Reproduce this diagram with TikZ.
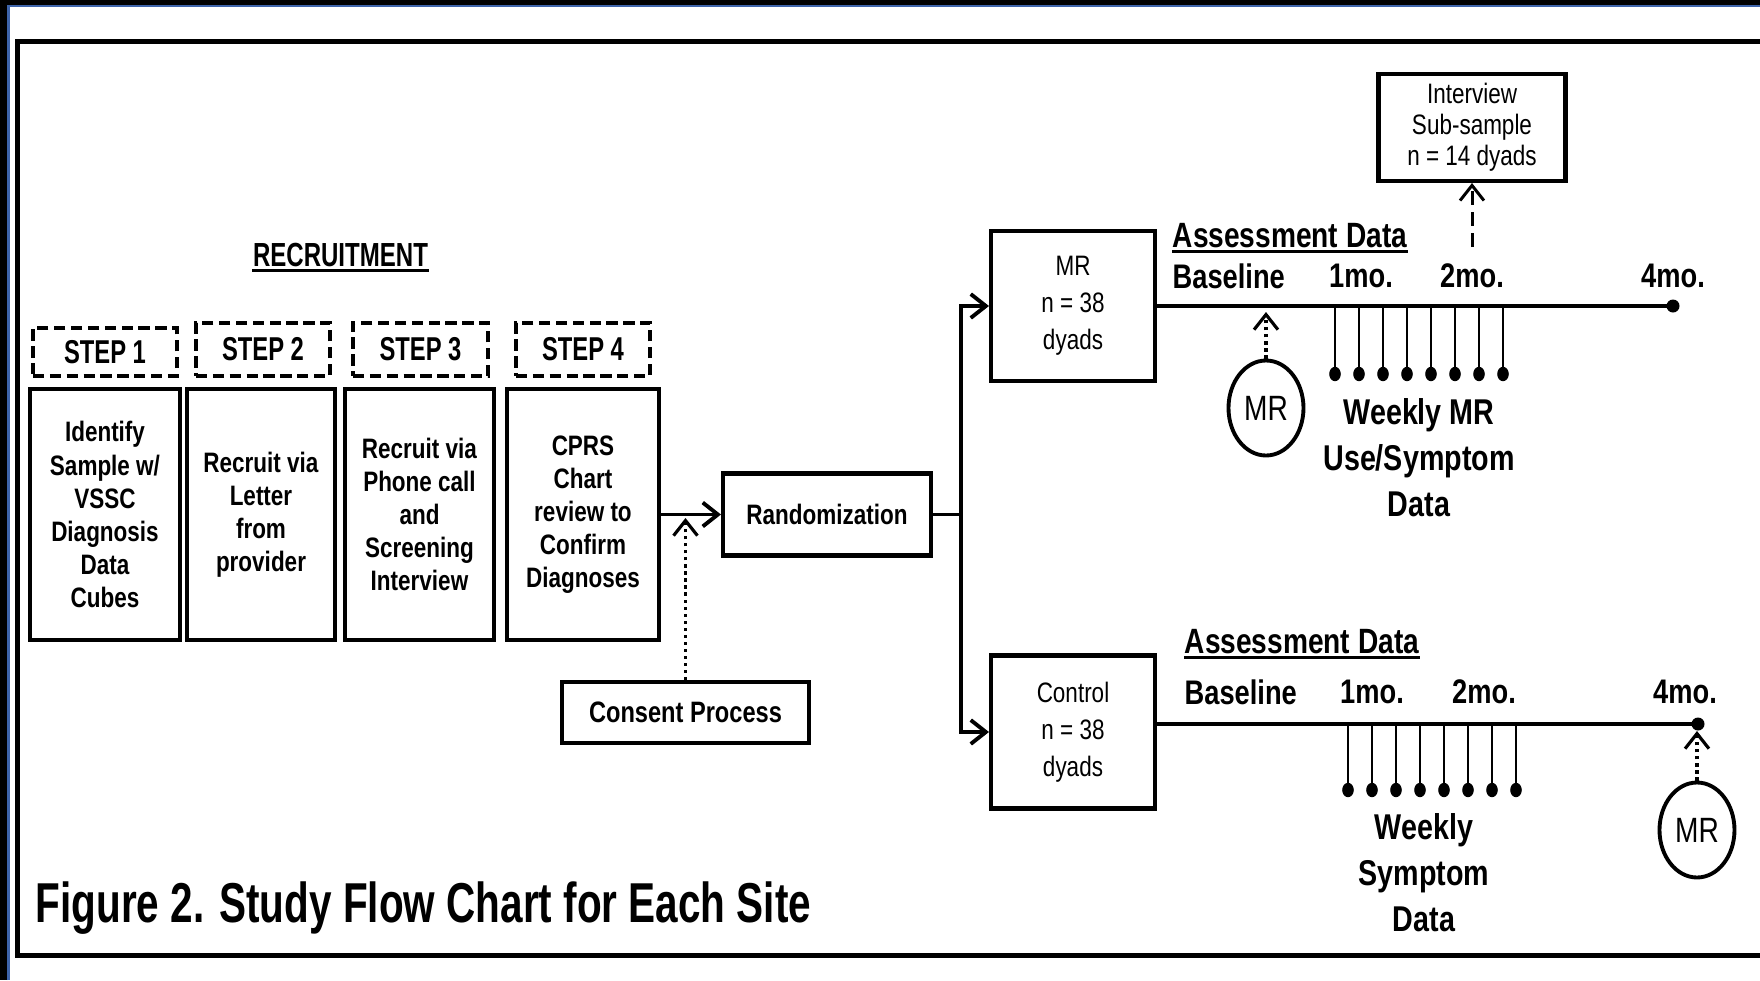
\documentclass[tikz,border=0pt]{standalone}
\usepackage{fontspec}
\setmainfont{Liberation Sans}[FakeStretch=0.8]
\newfontfamily\tallfont{Liberation Sans}[FakeStretch=0.72]
\usetikzlibrary{arrows.meta,shapes.geometric}
\definecolor{frameblue}{RGB}{62,100,170}

\begin{document}
\begin{tikzpicture}[>={Straight Barb[length=4.3pt,width=6.8pt]},
  box/.style={draw,line width=1.15pt,align=center,inner sep=0pt},
  steptag/.style={draw,line width=1.1pt,dash pattern=on 3.2pt off 1.6pt,inner sep=0pt,font=\tallfont\fontsize{9.4}{11}\selectfont\bfseries},
  taskbox/.style={box,minimum height=2.51cm,font=\fontsize{8}{9.4}\selectfont\bfseries},
  armbox/.style={box,minimum width=1.64cm,font=\fontsize{8}{10.5}\selectfont},
  mrcirc/.style={draw,ellipse,line width=1.1pt,minimum width=0.75cm,minimum height=0.95cm,inner sep=0pt,font=\fontsize{10}{12}\selectfont},
  tl/.style={inner sep=0pt,font=\fontsize{9.7}{11}\selectfont\bfseries},
  head/.style={inner sep=0pt,anchor=base west,font=\fontsize{10}{12}\selectfont\bfseries},
  weekly/.style={align=center,inner sep=0pt,font=\fontsize{10.2}{13.1}\selectfont\bfseries},
  stem/.style={line width=0.7pt},
  dotarrow/.style={->,line width=0.9pt,dash pattern=on 0.9pt off 1.1pt}]
\useasboundingbox (0,0) rectangle (17.6,9.8);
% outer frame
\fill (0,9.75) rectangle (17.6,9.8);
\fill (0,0) rectangle (0.073,9.8);
\draw[frameblue,line width=0.7pt] (0.085,0) -- (0.085,9.74) -- (17.6,9.74);
\draw[line width=1.3pt] (17.6,9.383) -- (0.175,9.383) -- (0.175,0.245) -- (17.6,0.245);

% recruitment steps
\node[anchor=base,inner sep=0pt,font=\tallfont\fontsize{9.5}{11}\selectfont\bfseries] (recruit) at (3.405,7.14) {RECRUITMENT};
\draw[line width=0.9pt] ([yshift=-1.3pt]recruit.base west) -- ([yshift=-1.3pt]recruit.base east);
\node[steptag,minimum width=1.44cm,minimum height=0.48cm] (s1) at (1.05,6.28) {STEP 1};
\node[steptag,minimum width=1.34cm,minimum height=0.53cm] (s2) at (2.63,6.305) {STEP 2};
\node[steptag,minimum width=1.35cm,minimum height=0.53cm] (s3) at (4.205,6.305) {STEP 3};
\node[steptag,minimum width=1.34cm,minimum height=0.53cm] (s4) at (5.83,6.305) {STEP 4};
\node[taskbox,minimum width=1.50cm] (b1) at (1.05,4.655) {Identify\\Sample w/\\VSSC\\Diagnosis\\Data\\Cubes};
\node[taskbox,minimum width=1.48cm] (b2) at (2.61,4.655) {Recruit via\\Letter\\from\\provider};
\node[taskbox,minimum width=1.49cm] (b3) at (4.195,4.655) {Recruit via\\Phone call\\and\\Screening\\Interview};
\node[taskbox,minimum width=1.52cm] (b4) at (5.83,4.655) {CPRS\\Chart\\review to\\Confirm\\Diagnoses};

% randomization
\node[box,minimum width=2.08cm,minimum height=0.82cm,font=\fontsize{8}{9.6}\selectfont\bfseries] (rand) at (8.27,4.655) {Randomization};
\node[box,minimum width=2.47cm,minimum height=0.61cm,font=\fontsize{8.4}{10}\selectfont\bfseries] (consent) at (6.855,2.675) {Consent Process};
\draw[->,line width=1.1pt] (b4) -- (rand);
\coordinate (cjoin) at (6.855,4.62);
\draw[dotarrow] (consent) -- (cjoin);
\coordinate (split) at (9.61,4.655);
\draw[line width=1.1pt] (rand) -- (split);

% arms
\node[armbox,minimum height=1.50cm] (mr) at (10.73,6.74) {MR\\n = 38\\dyads};
\node[armbox,minimum height=1.53cm] (ctl) at (10.73,2.48) {Control\\n = 38\\dyads};
\draw[->,line width=1.1pt] (split) |- (mr);
\draw[->,line width=1.1pt] (split) |- (ctl);
\node[box,minimum width=1.87cm,minimum height=1.07cm,font=\fontsize{8}{8.8}\selectfont] (iv) at (14.72,8.525) {Interview\\Sub-sample\\n = 14 dyads};

% MR timeline
\coordinate (mrend) at (16.73,6.74);
\draw[line width=1.1pt] (mr) -- (mrend);
\fill (mrend) circle (0.065);
\node[head] (mrad) at (11.72,7.33) {Assessment Data};
\draw[line width=0.85pt] ([yshift=-1.4pt]mrad.base west) -- ([yshift=-1.4pt]mrad.base east);
\node[tl,anchor=west] (mrbl) at (11.72,7.04) {Baseline};
\node[tl] (mr1) at (13.61,7.04) {1mo.};
\node[tl] (mr2) at (14.72,7.04) {2mo.};
\node[tl] (mr4) at (16.73,7.04) {4mo.};
\coordinate (ivfoot) at (14.72,7.33);
\draw[->,line width=0.85pt,dash pattern=on 4pt off 2pt] (ivfoot) -- (iv);
\foreach \k in {0,...,7} {
  \draw[stem] ({13.35+0.24*\k},6.74) -- ({13.35+0.24*\k},6.06);
  \fill ({13.35+0.24*\k},6.06) ellipse (0.058 and 0.072);
}
\node[weekly] (mrwk) at (14.19,5.22) {Weekly MR\\Use/Symptom\\Data};
\node[mrcirc] (mrc1) at (12.66,5.72) {MR};
\coordinate (mrhit) at (12.66,6.68);
\draw[dotarrow] (mrc1) -- (mrhit);

% control timeline
\coordinate (ctlend) at (16.98,2.56);
\draw[line width=1.1pt] (ctl.east |- ctlend) -- (ctlend);
\fill (ctlend) circle (0.065);
\node[head] (ctlad) at (11.84,3.27) {Assessment Data};
\draw[line width=0.85pt] ([yshift=-1.4pt]ctlad.base west) -- ([yshift=-1.4pt]ctlad.base east);
\node[tl,anchor=west] (ctlbl) at (11.84,2.88) {Baseline};
\node[tl] (ctl1) at (13.72,2.88) {1mo.};
\node[tl] (ctl2) at (14.84,2.88) {2mo.};
\node[tl] (ctl4) at (16.85,2.88) {4mo.};
\foreach \k in {0,...,7} {
  \draw[stem] ({13.48+0.24*\k},2.56) -- ({13.48+0.24*\k},1.90);
  \fill ({13.48+0.24*\k},1.90) ellipse (0.058 and 0.072);
}
\node[weekly] (ctlwk) at (14.24,1.07) {Weekly\\Symptom\\Data};
\node[mrcirc] (mrc2) at (16.97,1.50) {MR};
\coordinate (ctlhit) at (16.97,2.49);
\draw[dotarrow] (mrc2) -- (ctlhit);

\node[anchor=base west,inner sep=0pt,font=\tallfont\fontsize{16}{19}\selectfont\bfseries] (title) at (0.35,0.58) {Figure 2. Study Flow Chart for Each Site};
\end{tikzpicture}
\end{document}
